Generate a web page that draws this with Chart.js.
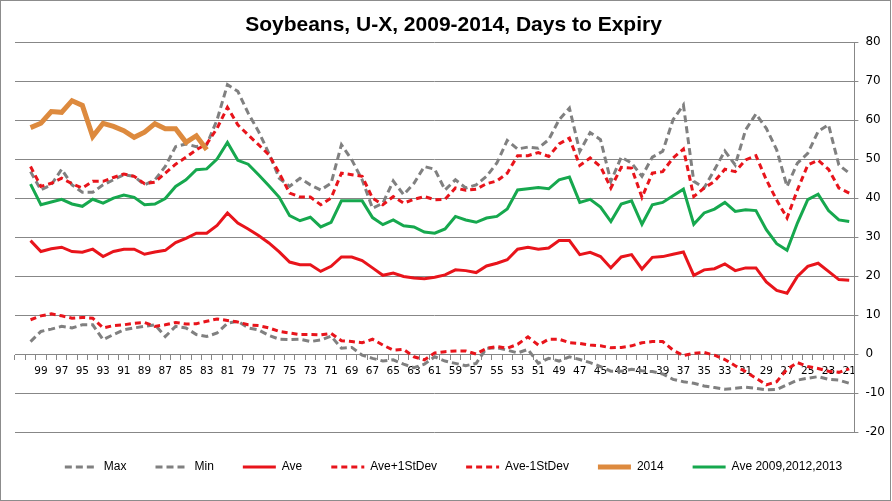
<!DOCTYPE html>
<html>
<head>
<meta charset="utf-8">
<title>Soybeans, U-X, 2009-2014, Days to Expiry</title>
<script src="https://cdn.jsdelivr.net/npm/chart.js@4.4.1/dist/chart.umd.min.js"></script>
<style>
  body { margin: 0; background: #fff; }
</style>
</head>
<body>
<canvas id="expiryChart" width="892" height="501"></canvas>
<script>
// days to expiry (first slot 101 is empty, as in the sheet)
const days = [101, 100, 99, 98, 97, 96, 95, 94, 93, 92, 91, 90, 89, 88, 87, 86, 85, 84, 83, 82, 81,
    80, 79, 78, 77, 76, 75, 74, 73, 72, 71, 70, 69, 68, 67, 66, 65, 64, 63, 62, 61,
    60, 59, 58, 57, 56, 55, 54, 53, 52, 51, 50, 49, 48, 47, 46, 45, 44, 43, 42, 41,
    40, 39, 38, 37, 36, 35, 34, 33, 32, 31, 30, 29, 28, 27, 26, 25, 24, 23, 22, 21];

const maxVals = [null, 46.8, 42.1, 43.4, 47.4, 43.4, 41.5, 41.5, 43.4, 44.7, 46.0, 45.6, 43.4, 44.7, 48.1, 53.2, 53.9, 53.2, 53.7, 60.1, 69.1,
    67.4, 61.8, 57.1, 51.5, 45.1, 43.0, 45.1, 43.4, 42.1, 43.8, 53.7, 49.8, 44.7, 37.4, 38.7, 44.4, 40.9, 43.8, 48.1, 47.4,
    42.1, 44.7, 42.6, 43.4, 45.6, 49.0, 54.8, 52.6, 53.1, 52.8, 55.0, 60.1, 63.1, 52.0, 56.8, 55.0, 44.3, 50.5, 49.0, 45.6,
    50.5, 52.0, 60.1, 63.9, 44.3, 42.6, 47.3, 52.1, 48.5, 57.5, 61.6, 57.9, 52.4, 43.0, 49.0, 51.5, 57.1, 58.8, 48.5, 46.4];

const minVals = [null, 3.2, 5.8, 6.4, 7.1, 6.7, 7.5, 7.5, 3.7, 5.0, 6.2, 6.7, 7.1, 7.5, 4.5, 7.1, 6.7, 5.0, 4.5, 5.4, 7.9,
    8.4, 6.7, 6.2, 4.8, 3.8, 3.7, 3.8, 3.2, 3.6, 4.6, 1.5, 1.7, -0.3, -1.1, -1.8, -1.5, -2.6, -3.5, -2.6, -0.7,
    -1.8, -2.4, -3.0, -2.4, 1.5, 1.6, 1.0, 0.3, 1.2, -2.4, -1.1, -1.8, -0.7, -1.4, -2.2, -3.2, -4.4, -4.4, -3.9, -4.3,
    -4.5, -5.1, -6.5, -7.1, -7.5, -8.2, -8.6, -9.0, -8.8, -8.5, -8.8, -9.2, -9.1, -7.9, -6.7, -6.2, -5.8, -6.5, -6.7, -7.5];

const aveVals = [null, 29.1, 26.3, 27.0, 27.4, 26.3, 26.1, 26.9, 25.0, 26.3, 26.9, 26.9, 25.6, 26.2, 26.6, 28.6, 29.7, 31.0, 31.0, 33.0, 36.2,
    33.6, 32.1, 30.4, 28.5, 26.2, 23.6, 22.9, 22.9, 21.2, 22.5, 24.9, 24.9, 24.0, 22.1, 20.2, 20.8, 19.9, 19.5, 19.3, 19.7,
    20.3, 21.6, 21.4, 20.9, 22.6, 23.3, 24.2, 26.9, 27.4, 26.9, 27.2, 29.1, 29.1, 25.5, 26.1, 25.0, 22.1, 24.9, 25.5, 21.8,
    24.8, 25.0, 25.6, 26.2, 20.2, 21.6, 21.9, 23.1, 21.4, 22.1, 22.1, 18.5, 16.3, 15.6, 19.9, 22.5, 23.3, 21.2, 19.1, 18.9];

const avePlusSd = [null, 48.1, 43.0, 43.8, 45.1, 43.7, 42.6, 44.3, 44.3, 45.3, 46.2, 45.6, 43.7, 44.1, 46.4, 48.7, 50.5, 52.4, 53.9, 57.9, 63.3,
    58.8, 56.2, 53.7, 51.1, 46.4, 41.3, 40.3, 40.3, 38.3, 40.0, 46.4, 46.0, 45.6, 40.0, 38.3, 40.4, 38.7, 39.7, 40.4, 39.6,
    39.7, 42.6, 42.0, 42.3, 43.7, 44.4, 46.4, 50.9, 50.9, 51.7, 50.7, 53.9, 55.4, 48.4, 50.3, 48.1, 42.6, 47.9, 47.7, 40.2,
    46.4, 46.8, 50.3, 52.6, 40.4, 42.6, 44.3, 47.4, 46.8, 49.8, 50.9, 44.7, 39.5, 34.9, 42.1, 48.5, 49.7, 47.4, 42.6, 41.3];

const aveMinusSd = [null, 8.8, 9.8, 10.3, 9.8, 9.2, 9.4, 9.2, 6.7, 7.3, 7.5, 7.9, 8.1, 7.1, 7.5, 8.1, 7.7, 7.8, 8.4, 9.0, 8.6,
    8.2, 7.5, 7.3, 6.7, 5.8, 5.4, 5.0, 5.0, 4.9, 5.3, 3.4, 3.2, 2.9, 3.8, 2.3, 1.0, 1.2, -0.7, -1.5, 0.3,
    0.6, 0.8, 0.8, 0.0, 1.5, 1.9, 1.5, 2.5, 4.4, 2.3, 3.8, 3.8, 2.9, 2.7, 2.3, 2.1, 1.6, 1.7, 2.1, 2.9,
    3.2, 3.2, 1.0, -0.4, 0.2, 0.4, -0.3, -1.4, -3.0, -4.5, -6.2, -7.9, -7.1, -3.9, -2.2, -3.2, -3.7, -4.4, -4.7, -3.8];

// 2014 contract only runs to 83 days so far
const year2014 = [null, 58.1, 59.2, 62.2, 62.0, 65.0, 63.8, 55.8, 59.2, 58.4, 57.3, 55.6, 56.9, 59.1, 57.8, 57.8, 54.3, 56.0, 52.4];

const ave091213 = [null, 43.6, 38.3, 39.0, 39.7, 38.5, 37.9, 39.7, 38.7, 40.0, 40.8, 40.2, 38.3, 38.5, 39.9, 43.0, 44.7, 47.3, 47.5, 50.0, 54.3,
    49.7, 48.7, 46.0, 43.2, 40.2, 35.5, 34.2, 35.1, 32.6, 33.8, 39.3, 39.3, 39.3, 35.0, 33.2, 34.4, 32.9, 32.6, 31.3, 31.0,
    32.1, 35.3, 34.4, 33.8, 34.9, 35.3, 37.2, 42.1, 42.4, 42.7, 42.4, 44.7, 45.4, 38.9, 39.7, 37.7, 34.0, 38.5, 39.3, 33.3,
    38.3, 38.9, 40.6, 42.3, 33.3, 36.2, 37.2, 38.9, 36.6, 37.0, 36.8, 31.9, 28.3, 26.6, 33.6, 39.6, 41.0, 36.8, 34.4, 34.0];

const GRID = "#878787";
const GRAY = "#808080";
const RED = "#e8141b";
const ORANGE = "#dd8a3e";
const GREEN = "#16a84e";

// outer frame round the whole chart, like the excel chart box
const framePlugin = {
    id: "frame",
    afterDraw(chart) {
        const ctx = chart.ctx;
        ctx.save();
        ctx.strokeStyle = "#8c8c8c";
        ctx.lineWidth = 1;
        ctx.strokeRect(0.5, 0.5, chart.width - 2, chart.height - 1);
        ctx.restore();
    }
};

function lineSet(label, data, color, width, dash, order) {
    return {
        label: label,
        data: data,
        borderColor: color,
        backgroundColor: color,
        borderWidth: width,
        borderDash: dash,
        pointRadius: 0,
        pointHoverRadius: 0,
        pointStyle: "line",
        tension: 0,
        fill: false,
        spanGaps: false,
        order: order
    };
}

const ctx = document.getElementById("expiryChart").getContext("2d");

new Chart(ctx, {
    type: "line",
    data: {
        labels: days,
        datasets: [
            lineSet("Max", maxVals, GRAY, 3, [7, 4], 7),
            lineSet("Min", minVals, GRAY, 3, [7, 4], 6),
            lineSet("Ave", aveVals, RED, 3, [], 5),
            lineSet("Ave+1StDev", avePlusSd, RED, 3, [6, 4], 4),
            lineSet("Ave-1StDev", aveMinusSd, RED, 3, [6, 4], 3),
            lineSet("2014", year2014, ORANGE, 5, [], 2),
            lineSet("Ave 2009,2012,2013", ave091213, GREEN, 3, [], 1)
        ]
    },
    options: {
        responsive: false,
        animation: false,
        devicePixelRatio: 1,
        layout: {
            padding: { left: 15, right: 0, top: 0, bottom: 18 }
        },
        plugins: {
            title: {
                display: true,
                text: "Soybeans, U-X, 2009-2014, Days to Expiry",
                color: "#000",
                font: { family: "'Liberation Sans', Arial, sans-serif", size: 21, weight: "bold" },
                padding: { top: 13, bottom: 4 }
            },
            legend: {
                position: "bottom",
                labels: {
                    usePointStyle: true,
                    pointStyleWidth: 33,
                    boxHeight: 12,
                    padding: 29,
                    color: "#000",
                    font: { family: "'Liberation Sans', Arial, sans-serif", size: 12 },
                    // point style loses the dash, so take it back from the dataset
                    generateLabels: function (chart) {
                        const items = Chart.defaults.plugins.legend.labels.generateLabels(chart);
                        items.forEach(item => {
                            const ds = chart.data.datasets[item.datasetIndex];
                            item.lineDash = ds.borderDash;
                            item.lineWidth = ds.borderWidth;
                            item.strokeStyle = ds.borderColor;
                        });
                        return items;
                    },
                    sort: (a, b) => a.datasetIndex - b.datasetIndex
                }
            },
            tooltip: { enabled: false }
        },
        scales: {
            x: {
                type: "category",
                position: { y: 0 },
                offset: true,
                grid: {
                    offset: true,
                    drawOnChartArea: false,
                    drawTicks: true,
                    tickLength: 5,
                    color: GRID
                },
                border: { display: true, color: GRID, width: 1 },
                ticks: {
                    autoSkip: false,
                    maxRotation: 0,
                    minRotation: 0,
                    padding: 6,
                    color: "#000",
                    font: { family: "'DejaVu Sans', Verdana, sans-serif", size: 10.5 },
                    callback: function (value, index) {
                        const d = days[index];
                        return (d % 2 === 1 && d < 100) ? String(d) : "";
                    }
                }
            },
            y: {
                position: "right",
                min: -20,
                max: 80,
                grid: {
                    color: GRID,
                    lineWidth: 1,
                    tickLength: 4
                },
                border: { display: true, color: GRID, width: 1 },
                ticks: {
                    stepSize: 10,
                    padding: 7,
                    color: "#000",
                    font: { family: "'DejaVu Sans', Verdana, sans-serif", size: 12 }
                }
            }
        }
    },
    plugins: [framePlugin]
});
</script>
</body>
</html>
